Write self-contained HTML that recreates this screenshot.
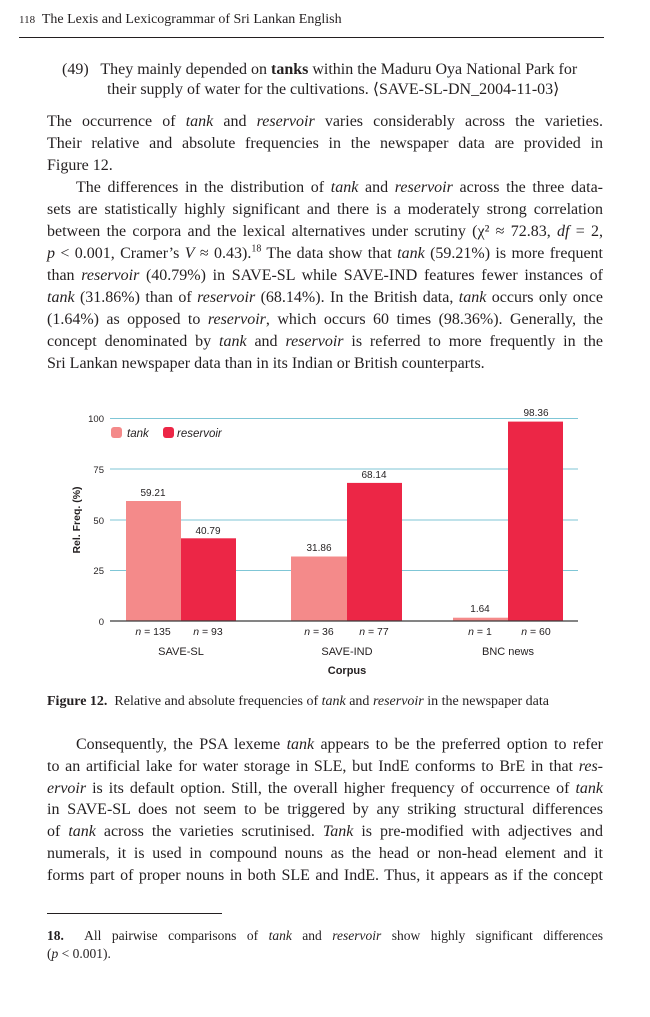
<!DOCTYPE html>
<html><head><meta charset="utf-8"><style>
body{margin:0;width:650px;height:1017px;background:#fff;position:relative;overflow:hidden;font-family:"Liberation Serif",serif;color:#231f20}
.l{position:absolute;left:47px;width:556px;font-size:16px;line-height:22px;height:22px;white-space:nowrap;text-align:justify;text-align-last:justify}
.l.n{text-align-last:left}
i{font-style:italic}
</style></head><body>
<div class="l n" style="left:19px;top:10px;font-size:14px;line-height:20px"><span style="font-size:11px">118</span>&nbsp; The Lexis and Lexicogrammar of Sri Lankan English</div>
<div style="position:absolute;left:19px;top:37px;width:585px;height:1px;background:#231f20"></div>

<div class="l n" style="left:62px;width:540px;top:59px">(49)&nbsp;&nbsp; They mainly depended on <b>tanks</b> within the Maduru Oya National Park for</div>
<div class="l n" style="left:107px;width:495px;top:79px">their supply of water for the cultivations. ⟨SAVE-SL-DN_2004-11-03⟩</div>

<div class="l" style="top:111px">The occurrence of <i>tank</i> and <i>reservoir</i> varies considerably across the varieties.</div>
<div class="l" style="top:133px">Their relative and absolute frequencies in the newspaper data are provided in</div>
<div class="l n" style="top:155px">Figure 12.</div>
<div class="l" style="top:177px;left:76px;width:527px">The differences in the distribution of <i>tank</i> and <i>reservoir</i> across the three data-</div>
<div class="l" style="top:199px">sets are statistically highly significant and there is a moderately strong correlation</div>
<div class="l" style="top:221px">between the corpora and the lexical alternatives under scrutiny (χ² ≈ 72.83, <i>df</i> = 2,</div>
<div class="l" style="top:243px"><i>p</i> &lt; 0.001, Cramer’s <i>V</i> ≈ 0.43).<sup style="font-size:10px;line-height:0">18</sup> The data show that <i>tank</i> (59.21%) is more frequent</div>
<div class="l" style="top:265px">than <i>reservoir</i> (40.79%) in SAVE-SL while SAVE-IND features fewer instances of</div>
<div class="l" style="top:287px"><i>tank</i> (31.86%) than of <i>reservoir</i> (68.14%). In the British data, <i>tank</i> occurs only once</div>
<div class="l" style="top:309px">(1.64%) as opposed to <i>reservoir</i>, which occurs 60 times (98.36%). Generally, the</div>
<div class="l" style="top:331px">concept denominated by <i>tank</i> and <i>reservoir</i> is referred to more frequently in the</div>
<div class="l n" style="top:353px">Sri Lankan newspaper data than in its Indian or British counterparts.</div>

<svg style="position:absolute;left:0;top:395px" width="650" height="290" font-family="Liberation Sans, sans-serif">
<g transform="translate(0,-395)">
<g stroke="#7fc6d6" stroke-width="1">
<line x1="110" x2="578" y1="418.5" y2="418.5"/>
<line x1="110" x2="578" y1="469" y2="469"/>
<line x1="110" x2="578" y1="520" y2="520"/>
<line x1="110" x2="578" y1="570.5" y2="570.5"/>
</g>
<g font-size="9.5" fill="#231f20" text-anchor="end">
<text x="104" y="422">100</text><text x="104" y="473">75</text><text x="104" y="524">50</text><text x="104" y="574">25</text><text x="104" y="625">0</text>
</g>
<text transform="translate(80,520) rotate(-90)" text-anchor="middle" font-size="10.5" font-weight="bold" fill="#231f20">Rel. Freq. (%)</text>
<g fill="#f48a8a">
<rect x="126" y="501" width="55" height="120"/>
<rect x="291" y="556.5" width="56" height="64.5"/>
<rect x="453" y="617.7" width="55" height="3.3"/>
</g>
<g fill="#ec2646">
<rect x="181" y="538.3" width="55" height="82.7"/>
<rect x="347" y="482.9" width="55" height="138.1"/>
<rect x="508" y="421.6" width="55" height="199.4"/>
</g>
<line x1="110" x2="578" y1="621" y2="621" stroke="#3a3a3a" stroke-width="1.2"/>
<g font-size="10" fill="#231f20" text-anchor="middle">
<text x="153" y="496">59.21</text><text x="208" y="534">40.79</text>
<text x="319" y="551">31.86</text><text x="374" y="478">68.14</text>
<text x="480" y="612">1.64</text><text x="536" y="416">98.36</text>
</g>
<g font-size="10.5" fill="#231f20" text-anchor="middle">
<text x="153" y="635"><tspan font-style="italic">n</tspan> = 135</text>
<text x="208" y="635"><tspan font-style="italic">n</tspan> = 93</text>
<text x="319" y="635"><tspan font-style="italic">n</tspan> = 36</text>
<text x="374" y="635"><tspan font-style="italic">n</tspan> = 77</text>
<text x="480" y="635"><tspan font-style="italic">n</tspan> = 1</text>
<text x="536" y="635"><tspan font-style="italic">n</tspan> = 60</text>
<text x="181" y="655" font-size="11">SAVE-SL</text>
<text x="347" y="655" font-size="11">SAVE-IND</text>
<text x="508" y="655" font-size="11">BNC news</text>
<text x="347" y="674" font-size="11" font-weight="bold">Corpus</text>
</g>
<rect x="111" y="427" width="11" height="11" rx="3" fill="#f48a8a"/>
<text x="127" y="437" font-size="11.5" font-style="italic" fill="#231f20">tank</text>
<rect x="163" y="427" width="11" height="11" rx="3" fill="#ec2646"/>
<text x="177" y="437" font-size="11.5" font-style="italic" fill="#231f20">reservoir</text>
</g>
</svg>

<div class="l n" style="top:691px;font-size:14px"><b>Figure 12.</b>&nbsp; Relative and absolute frequencies of <i>tank</i> and <i>reservoir</i> in the newspaper data</div>

<div class="l" style="top:734px;left:76px;width:527px">Consequently, the PSA lexeme <i>tank</i> appears to be the preferred option to refer</div>
<div class="l" style="top:756px">to an artificial lake for water storage in SLE, but IndE conforms to BrE in that <i>res-</i></div>
<div class="l" style="top:778px"><i>ervoir</i> is its default option. Still, the overall higher frequency of occurrence of <i>tank</i></div>
<div class="l" style="top:799px">in SAVE-SL does not seem to be triggered by any striking structural differences</div>
<div class="l" style="top:821px">of <i>tank</i> across the varieties scrutinised. <i>Tank</i> is pre-modified with adjectives and</div>
<div class="l" style="top:843px">numerals, it is used in compound nouns as the head or non-head element and it</div>
<div class="l" style="top:865px">forms part of proper nouns in both SLE and IndE. Thus, it appears as if the concept</div>

<div style="position:absolute;left:47px;top:913px;width:175px;height:1px;background:#231f20"></div>
<div class="l" style="top:927px;font-size:13.5px;line-height:18px"><b>18.</b>&nbsp; All pairwise comparisons of <i>tank</i> and <i>reservoir</i> show highly significant differences</div>
<div class="l n" style="top:945px;font-size:13.5px;line-height:18px">(<i>p</i> &lt; 0.001).</div>
</body></html>
